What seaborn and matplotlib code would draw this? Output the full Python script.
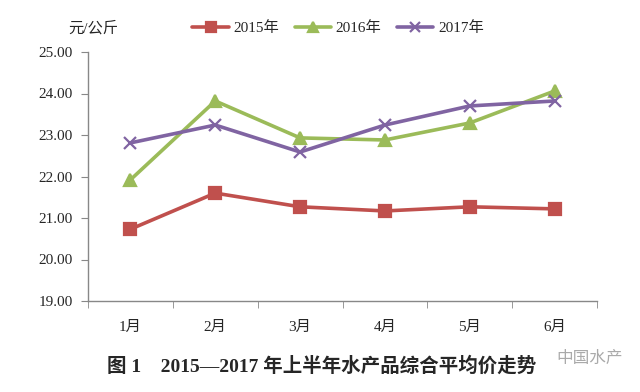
import pandas as pd
import matplotlib.pyplot as plt
import seaborn as sns
from matplotlib.ticker import FixedLocator

months = ['1月', '2月', '3月', '4月', '5月', '6月']
price_2015 = [20.73, 21.60, 21.27, 21.17, 21.27, 21.22]
price_2016 = [21.92, 23.82, 22.93, 22.88, 23.29, 24.06]
price_2017 = [22.81, 23.24, 22.59, 23.24, 23.70, 23.82]
years = ['2015年', '2016年', '2017年']
y_ticks = [19, 20, 21, 22, 23, 24, 25]

df = pd.DataFrame({
    'month': months * 3,
    'price': price_2015 + price_2016 + price_2017,
    'year': [years[0]] * 6 + [years[1]] * 6 + [years[2]] * 6,
})

sns.set_style("white")
plt.rcParams['font.family'] = ['Liberation Serif', 'Noto Sans CJK SC']

fig = plt.figure(figsize=(6.4, 3.92), dpi=100)
ax = fig.add_axes([88 / 640, 1 - 301 / 392, (597 - 88) / 640, (301 - 52) / 392])

colors = {'2015年': '#C0504D', '2016年': '#9BBB59', '2017年': '#8064A2'}
markers = {'2015年': 's', '2016年': '^', '2017年': 'x'}

# one call per series so filled and line markers can be mixed
for yr in years:
    sub = df[df['year'] == yr]
    sns.lineplot(data=sub, x='month', y='price', color=colors[yr], marker=markers[yr],
                 markersize=8.5, markeredgecolor=colors[yr], markeredgewidth=1.6,
                 linewidth=2.6, sort=False, label=yr, ax=ax)

ax.set_xlim(-0.5, 5.5)
ax.set_ylim(19, 25)
ax.set_yticks(y_ticks)
ax.set_yticklabels([f'{v:.2f}' for v in y_ticks], fontsize=11)
ax.set_xticks(range(len(months)))
ax.set_xticklabels(months, fontsize=11)
ax.xaxis.set_minor_locator(FixedLocator([i - 0.5 for i in range(len(months) + 1)]))
ax.tick_params(axis='x', which='major', length=0, pad=14)
ax.tick_params(axis='x', which='minor', length=5, color='#888888', direction='out', bottom=True)
ax.tick_params(axis='y', length=5, color='#888888', direction='out', pad=6, left=True)
ax.set_xlabel('')
ax.set_ylabel('')

for side in ['top', 'right']:
    ax.spines[side].set_visible(False)
for side in ['left', 'bottom']:
    ax.spines[side].set_color('#888888')
    ax.spines[side].set_linewidth(1.0)

handles, labels = ax.get_legend_handles_labels()
ax.legend(handles, labels, loc='center', bbox_to_anchor=(338 / 640, 1 - 28 / 392),
          bbox_transform=fig.transFigure, ncol=3, frameon=False, fontsize=11,
          handlelength=2.4, columnspacing=1.0, handletextpad=0.3, markerscale=0.9)

fig.text(68 / 640, 1 - 28 / 392, '元/公斤', fontsize=11, va='center', ha='left')
fig.text(322 / 640, 1 - 366 / 392, '图 1    2015—2017 年上半年水产品综合平均价走势',
         fontsize=14, fontweight='bold', ha='center', va='center')
fig.text(590 / 640, 1 - 358 / 392, '中国水产', fontsize=12, color='#AAAAAA',
         ha='center', va='center', family=['Noto Sans CJK SC'])

plt.savefig('out.png', dpi=100)
